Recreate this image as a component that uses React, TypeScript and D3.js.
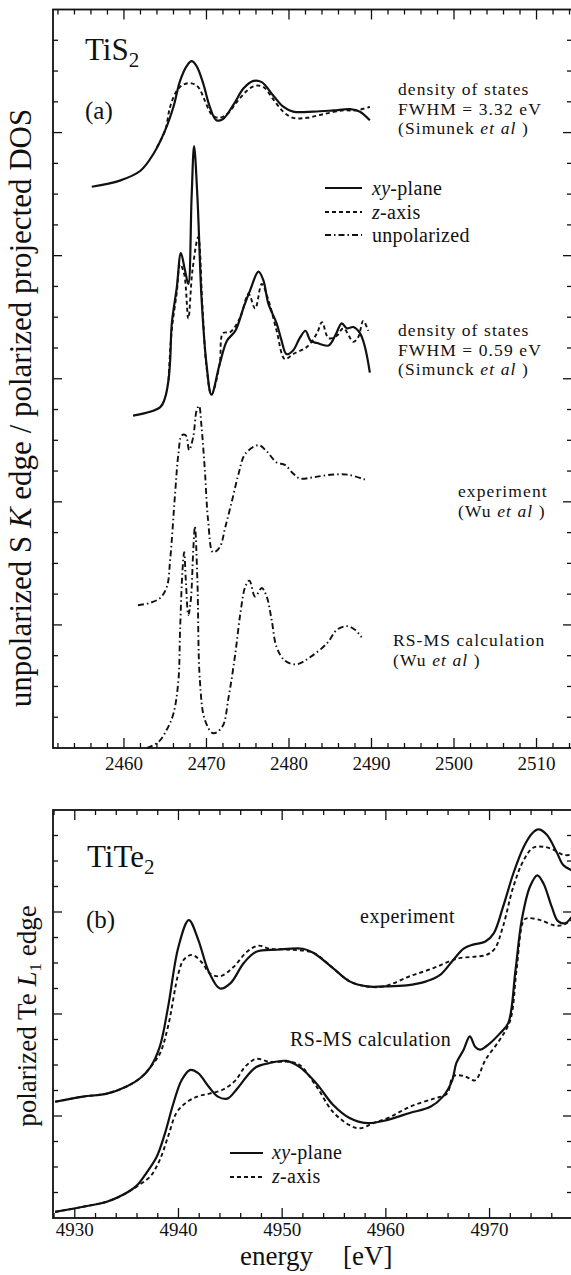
import React from 'react';
import * as d3 from 'd3';

type Pt = [number, number];

// ---- panel (a): TiS2, S K edge (energy eV, arbitrary intensity) ----
const sBroadXY: Pt[] = [
  [2456.1, 4.56], [2459.5, 4.61], [2462.0, 4.69], [2463.6, 4.83], [2465.0, 5.02], [2466.0, 5.21],
  [2466.8, 5.42], [2467.6, 5.54], [2468.2, 5.58], [2468.8, 5.54], [2469.6, 5.40], [2470.4, 5.21],
  [2471.2, 5.10], [2472.0, 5.11], [2473.3, 5.23], [2474.5, 5.36], [2475.7, 5.42], [2476.7, 5.41],
  [2478.1, 5.30], [2479.3, 5.21], [2480.5, 5.17], [2483.0, 5.17], [2485.4, 5.18], [2487.4, 5.19],
  [2488.6, 5.17], [2489.8, 5.10],
];
const sBroadZ: Pt[] = [
  [2464.0, 4.88], [2465.0, 5.02], [2465.6, 5.21], [2466.4, 5.34], [2467.2, 5.39], [2468.2, 5.40],
  [2469.0, 5.37], [2469.8, 5.26], [2470.6, 5.15], [2471.4, 5.12], [2472.5, 5.15], [2473.7, 5.25],
  [2474.9, 5.34], [2475.9, 5.38], [2476.9, 5.37], [2478.1, 5.27], [2479.3, 5.17], [2480.5, 5.12],
  [2482.2, 5.12], [2484.2, 5.15], [2486.6, 5.18], [2488.2, 5.18], [2489.8, 5.21],
];
const sSharpXY: Pt[] = [
  [2461.1, 2.70], [2464.4, 2.77], [2465.0, 2.85], [2465.4, 2.99], [2465.6, 3.15], [2465.8, 3.45],
  [2466.4, 3.74], [2466.9, 4.02], [2467.4, 3.88], [2467.8, 3.77], [2468.2, 4.48], [2468.5, 4.89],
  [2468.9, 4.48], [2469.4, 3.66], [2470.0, 3.12], [2470.6, 2.87], [2471.6, 3.12], [2472.5, 3.31],
  [2473.5, 3.39], [2474.5, 3.58], [2475.3, 3.72], [2476.3, 3.87], [2476.9, 3.80], [2477.5, 3.61],
  [2478.5, 3.45], [2479.1, 3.31], [2479.7, 3.20], [2480.5, 3.23], [2481.3, 3.33], [2482.0, 3.39],
  [2482.6, 3.31], [2483.4, 3.29], [2484.8, 3.27], [2485.6, 3.35], [2486.4, 3.45], [2487.0, 3.41],
  [2487.8, 3.42], [2488.6, 3.37], [2489.2, 3.26], [2489.8, 3.05],
];
const sSharpZ: Pt[] = [
  [2465.4, 2.99], [2465.8, 3.40], [2466.4, 3.70], [2466.8, 3.93], [2467.3, 3.85], [2467.8, 3.49],
  [2468.3, 3.88], [2469.0, 4.15], [2469.5, 3.60], [2470.0, 3.10], [2470.6, 2.87], [2471.6, 3.12],
  [2472.0, 3.37], [2472.9, 3.38], [2474.1, 3.50], [2475.1, 3.69], [2475.9, 3.57], [2476.7, 3.77],
  [2477.5, 3.64], [2478.5, 3.39], [2479.5, 3.16], [2480.5, 3.20], [2482.2, 3.26], [2483.4, 3.37],
  [2484.0, 3.46], [2484.8, 3.33], [2485.8, 3.35], [2486.6, 3.41], [2487.8, 3.30], [2488.4, 3.34],
  [2489.0, 3.47], [2489.6, 3.39],
];
const sExperiment: Pt[] = [
  [2461.7, 1.16], [2463.2, 1.18], [2464.4, 1.22], [2465.2, 1.31], [2465.6, 1.53], [2466.2, 2.07],
  [2466.6, 2.39], [2467.0, 2.54], [2467.5, 2.54], [2467.9, 2.42], [2468.4, 2.53], [2468.8, 2.74],
  [2469.1, 2.78], [2469.4, 2.61], [2469.8, 2.26], [2470.2, 1.85], [2470.8, 1.59], [2471.6, 1.63],
  [2472.3, 1.80], [2473.1, 2.01], [2473.9, 2.23], [2474.7, 2.39], [2476.3, 2.46], [2477.3, 2.41],
  [2478.5, 2.32], [2479.5, 2.30], [2480.5, 2.23], [2481.3, 2.19], [2483.0, 2.20], [2485.0, 2.22],
  [2487.2, 2.22], [2489.2, 2.18],
];
const sCalc: Pt[] = [
  [2462.8, 0.0], [2464.2, 0.05], [2465.2, 0.15], [2466.0, 0.28], [2466.6, 0.55], [2466.8, 0.96],
  [2467.1, 1.45], [2467.3, 1.59], [2467.5, 1.36], [2467.8, 1.08], [2468.1, 1.20], [2468.4, 1.61],
  [2468.6, 1.80], [2468.9, 1.36], [2469.2, 0.55], [2469.8, 0.23], [2470.8, 0.12], [2471.9, 0.17],
  [2472.7, 0.42], [2473.5, 0.77], [2474.1, 1.09], [2474.7, 1.31], [2475.2, 1.36], [2475.9, 1.23],
  [2476.7, 1.30], [2477.3, 1.23], [2477.9, 1.04], [2478.5, 0.82], [2479.5, 0.71], [2480.9, 0.68],
  [2482.6, 0.74], [2484.6, 0.85], [2485.8, 0.96], [2487.0, 0.99], [2488.0, 0.96], [2488.8, 0.90],
];

// ---- panel (b): TiTe2, Te L1 edge ----
const teExpXY: Pt[] = [
  [4928.1, 1.14], [4930.8, 1.19], [4933.1, 1.22], [4935.0, 1.29], [4936.3, 1.37], [4937.3, 1.48],
  [4938.2, 1.68], [4939.0, 2.07], [4940.0, 2.66], [4941.0, 2.92], [4941.9, 2.73], [4942.9, 2.42],
  [4944.0, 2.25], [4945.0, 2.30], [4946.3, 2.50], [4947.5, 2.61], [4949.5, 2.63], [4952.0, 2.64],
  [4953.0, 2.60], [4954.9, 2.45], [4956.5, 2.32], [4958.2, 2.27], [4959.8, 2.27], [4962.0, 2.28],
  [4963.9, 2.32], [4965.2, 2.38], [4966.5, 2.53], [4967.5, 2.64], [4968.4, 2.68], [4969.6, 2.71],
  [4970.4, 2.79], [4971.3, 3.05], [4972.3, 3.38], [4973.3, 3.64], [4974.1, 3.77], [4974.7, 3.81],
  [4975.5, 3.76], [4976.5, 3.58], [4977.1, 3.46], [4977.9, 3.41],
];
const teExpZ: Pt[] = [
  [4928.1, 1.14], [4930.8, 1.19], [4933.1, 1.22], [4935.0, 1.29], [4936.3, 1.37], [4937.3, 1.48],
  [4938.2, 1.61], [4939.0, 1.88], [4940.0, 2.40], [4940.5, 2.53], [4941.3, 2.58], [4942.3, 2.50],
  [4943.0, 2.40], [4944.0, 2.37], [4945.3, 2.46], [4946.6, 2.61], [4947.7, 2.67], [4948.8, 2.64],
  [4950.8, 2.63], [4953.0, 2.60], [4954.9, 2.45], [4956.5, 2.32], [4958.2, 2.27], [4959.8, 2.27],
  [4962.3, 2.37], [4964.6, 2.45], [4966.2, 2.52], [4967.2, 2.55], [4968.4, 2.56], [4969.7, 2.58],
  [4970.5, 2.64], [4971.3, 2.86], [4972.3, 3.25], [4973.3, 3.51], [4974.2, 3.63], [4975.2, 3.64],
  [4976.2, 3.61], [4977.1, 3.56], [4977.9, 3.56],
];
const teCalcXY: Pt[] = [
  [4928.1, 0.06], [4930.8, 0.11], [4933.1, 0.16], [4934.7, 0.23], [4936.0, 0.32], [4936.9, 0.44],
  [4937.9, 0.60], [4938.7, 0.83], [4939.5, 1.12], [4940.3, 1.35], [4941.1, 1.45], [4941.9, 1.42],
  [4942.9, 1.29], [4943.8, 1.19], [4944.7, 1.17], [4945.6, 1.26], [4946.6, 1.39], [4947.5, 1.48],
  [4948.8, 1.52], [4950.4, 1.54], [4951.7, 1.48], [4953.3, 1.32], [4954.9, 1.11], [4956.5, 0.98],
  [4958.2, 0.93], [4960.1, 0.96], [4962.3, 1.03], [4964.3, 1.09], [4965.5, 1.19], [4966.4, 1.35],
  [4966.8, 1.52], [4967.5, 1.65], [4968.1, 1.78], [4968.6, 1.68], [4969.1, 1.65], [4970.0, 1.71],
  [4971.0, 1.81], [4971.8, 1.91], [4972.5, 2.43], [4973.1, 2.92], [4973.9, 3.25], [4974.6, 3.36],
  [4975.2, 3.28], [4976.0, 3.05], [4976.6, 2.91], [4977.3, 2.89], [4977.9, 2.95],
];
const teCalcZ: Pt[] = [
  [4928.1, 0.06], [4930.8, 0.11], [4933.1, 0.16], [4934.7, 0.23], [4936.0, 0.31], [4937.3, 0.41],
  [4938.2, 0.57], [4939.0, 0.80], [4939.8, 1.03], [4940.6, 1.12], [4941.8, 1.19], [4943.0, 1.22],
  [4944.3, 1.26], [4945.5, 1.35], [4946.4, 1.48], [4947.5, 1.56], [4948.8, 1.53], [4950.8, 1.53],
  [4951.7, 1.50], [4953.3, 1.29], [4954.9, 1.04], [4956.5, 0.91], [4957.5, 0.88], [4958.8, 0.93],
  [4960.4, 0.99], [4962.3, 1.09], [4964.6, 1.17], [4965.9, 1.22], [4966.5, 1.39], [4967.6, 1.39],
  [4968.6, 1.35], [4969.6, 1.55], [4971.0, 1.75], [4972.0, 1.94], [4972.6, 2.43], [4973.3, 2.92],
  [4973.7, 2.94], [4974.9, 2.92], [4976.2, 2.87], [4977.0, 2.87], [4977.9, 2.92],
];

// tick labels
const sTickLabels = [2460, 2470, 2480, 2490, 2500, 2510];
const teTickLabels = [4930, 4940, 4950, 4960, 4970];

const FONT = "'Liberation Serif', 'Times New Roman', serif";
const INK = '#111';
const DASH = '4,3';
const DASHDOT = '6,3,1.5,3';

const Frame = ({ x, y, xMajor, xMinor, yMajor, yMinor }) => {
  const [l, r] = x.range();
  const [b, t] = y.range();
  return (
    <g stroke={INK} strokeWidth={1.3}>
      {xMinor.map((v) => {
        const len = xMajor.includes(v) ? 10 : 5;
        return (
          <g key={'x' + v}>
            <line x1={x(v)} x2={x(v)} y1={b} y2={b - len} />
            <line x1={x(v)} x2={x(v)} y1={t} y2={t + len} />
          </g>
        );
      })}
      {yMinor.map((v) => {
        const len = yMajor.includes(v) ? 9 : 5;
        return (
          <g key={'y' + v}>
            <line x1={l} x2={l + len} y1={y(v)} y2={y(v)} />
            <line x1={r} x2={r - len} y1={y(v)} y2={y(v)} />
          </g>
        );
      })}
      <rect x={l} y={t} width={r - l} height={b - t} fill="none" strokeWidth={1.8} />
    </g>
  );
};

// stacked annotation lines, tight like the original
const Block = ({ x, y, lines, gap = 19.5, size = 17.5, spacing = 1.1 }) => (
  <g fontFamily={FONT} fill={INK} fontSize={size} letterSpacing={spacing}>
    {lines.map((ln, i) => (
      <text key={i} x={x} y={y + i * gap}>{ln}</text>
    ))}
  </g>
);

const etal = <tspan fontStyle="italic">et al</tspan>;

export default function App() {
  // panel (a)
  const xa = d3.scaleLinear().domain([2451.4, 2514.3]).range([53, 572]);
  const ya = d3.scaleLinear().domain([0, 6]).range([748, 9.5]);
  // panel (b)
  const xb = d3.scaleLinear().domain([4927.9, 4977.95]).range([53, 572]);
  const yb = d3.scaleLinear().domain([0, 4]).range([1218, 810]);

  const la = d3.line<Pt>().x((d) => xa(d[0])).y((d) => ya(d[1])).curve(d3.curveCatmullRom.alpha(0.5));
  const lb = d3.line<Pt>().x((d) => xb(d[0])).y((d) => yb(d[1])).curve(d3.curveCatmullRom.alpha(0.5));

  const path = (d, dash, w = 2.2) => (
    <path d={d} fill="none" stroke={INK} strokeWidth={w} strokeDasharray={dash} strokeLinejoin="round" />
  );

  const txt = { fontFamily: FONT, fill: INK };

  return (
    <div style={{ position: 'absolute', left: 0, top: 0 }}>
      <svg width={571} height={1275} style={{ display: 'block', background: '#fff' }}>
        {/* ---------- panel (a) ---------- */}
        <Frame
          x={xa}
          y={ya}
          xMajor={sTickLabels}
          xMinor={d3.range(2452, 2514.1, 2)}
          yMajor={[1, 2, 3, 4, 5]}
          yMinor={d3.range(0.25, 6, 0.25)}
        />
        {path(la(sBroadXY), null)}
        {path(la(sBroadZ), DASH, 1.9)}
        {path(la(sSharpXY), null)}
        {path(la(sSharpZ), DASH, 1.9)}
        {path(la(sExperiment), DASHDOT, 1.9)}
        {path(la(sCalc), DASHDOT, 1.9)}

        <g {...txt} fontSize={19}>
          {sTickLabels.map((v) => (
            <text key={v} x={xa(v)} y={770} textAnchor="middle">{v}</text>
          ))}
        </g>

        <text {...txt} x={85} y={60} fontSize={31}>
          TiS<tspan dy={7} fontSize={21}>2</tspan>
        </text>
        <text {...txt} x={85} y={119} fontSize={25}>(a)</text>

        <text {...txt} transform="translate(31,408) rotate(-90)" textAnchor="middle" fontSize={31}>
          unpolarized S <tspan fontStyle="italic">K</tspan> edge / polarized projected DOS
        </text>

        <Block x={398} y={95} lines={['density of states', 'FWHM = 3.32 eV', <>(Simunek {etal} )</>]} />
        <Block x={398} y={336} lines={['density of states', 'FWHM = 0.59 eV', <>(Simunck {etal} )</>]} />
        <Block x={458} y={497} lines={['experiment', <>(Wu {etal} )</>]} />
        <Block x={393} y={646} lines={['RS-MS calculation', <>(Wu {etal} )</>]} />

        <Block
          x={372}
          y={195}
          gap={23.5}
          size={20}
          spacing={0.3}
          lines={[
            <><tspan fontStyle="italic">xy</tspan>-plane</>,
            <><tspan fontStyle="italic">z</tspan>-axis</>,
            'unpolarized',
          ]}
        />
        <g stroke={INK} strokeWidth={1.9}>
          <line x1={325} x2={362} y1={188} y2={188} strokeWidth={2.2} />
          <line x1={325} x2={362} y1={212} y2={212} strokeDasharray={DASH} />
          <line x1={325} x2={362} y1={235} y2={235} strokeDasharray={DASHDOT} />
        </g>

        {/* ---------- panel (b) ---------- */}
        <Frame
          x={xb}
          y={yb}
          xMajor={teTickLabels}
          xMinor={d3.range(4928, 4977.9, 2)}
          yMajor={[1, 2, 3]}
          yMinor={d3.range(0.25, 4, 0.25)}
        />
        {path(lb(teExpXY), null)}
        {path(lb(teExpZ), DASH, 1.9)}
        {path(lb(teCalcXY), null)}
        {path(lb(teCalcZ), DASH, 1.9)}

        <g {...txt} fontSize={19}>
          {teTickLabels.map((v) => (
            <text key={v} x={xb(v)} y={1236} textAnchor="middle">{v}</text>
          ))}
        </g>
        <text {...txt} x={240} y={1265} fontSize={27}>energy</text>
        <text {...txt} x={343} y={1265} fontSize={27}>[eV]</text>

        <text {...txt} x={87} y={867} fontSize={31}>
          TiTe<tspan dy={7} fontSize={21}>2</tspan>
        </text>
        <text {...txt} x={86} y={928} fontSize={25}>(b)</text>

        <text {...txt} transform="translate(36,1016) rotate(-90)" textAnchor="middle" fontSize={27}>
          polarized Te <tspan fontStyle="italic">L</tspan>
          <tspan dy={5} fontSize={17}>1</tspan>
          <tspan dy={-5}> edge</tspan>
        </text>

        <g {...txt} fontSize={20} letterSpacing={0.5}>
          <text x={360} y={923}>experiment</text>
          <text x={290} y={1046}>RS-MS calculation</text>
        </g>
        <Block
          x={272}
          y={1159}
          gap={24}
          size={20}
          spacing={0.3}
          lines={[
            <><tspan fontStyle="italic">xy</tspan>-plane</>,
            <><tspan fontStyle="italic">z</tspan>-axis</>,
          ]}
        />
        <g stroke={INK} strokeWidth={1.9}>
          <line x1={230} x2={263} y1={1153} y2={1153} strokeWidth={2.2} />
          <line x1={230} x2={263} y1={1177} y2={1177} strokeDasharray={DASH} />
        </g>
      </svg>
    </div>
  );
}
